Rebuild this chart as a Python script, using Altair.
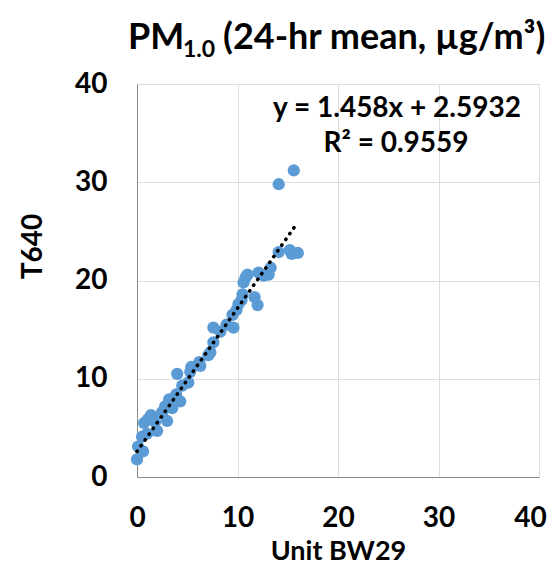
import altair as alt
import pandas as pd

# Data
bw29 = [0.0, 0.1, 0.6, 0.5, 1.0, 0.7, 1.1, 1.4, 1.8, 2.0, 1.5, 2.5, 3.0, 3.2, 3.5,
        2.8, 3.9, 4.3, 4.5, 4.0, 5.1, 5.3, 5.4, 6.3, 6.2, 7.3, 7.1, 7.6, 7.6, 8.3,
        8.9, 9.6, 9.5, 9.9, 10.1, 10.5, 10.4, 11.7, 12.0, 10.6, 11.0, 10.8, 12.1,
        12.6, 13.1, 13.3, 14.1, 15.2, 15.4, 16.0, 14.1, 15.6]
t640 = [1.8, 3.1, 2.6, 4.1, 4.4, 5.5, 5.9, 6.3, 5.6, 4.7, 6.0, 6.6, 5.7, 7.9, 7.0,
        7.2, 8.4, 7.7, 9.3, 10.5, 9.6, 10.7, 11.2, 11.3, 11.7, 12.7, 12.4, 13.7, 15.2,
        14.8, 15.5, 15.2, 16.5, 17.0, 17.6, 18.6, 18.0, 18.3, 17.5, 19.8, 20.6, 20.3,
        20.8, 20.5, 20.6, 21.3, 22.9, 23.1, 22.7, 22.8, 29.8, 31.2]
slope = 1.458
intercept = 2.5932
eq_line1 = "y = 1.458x + 2.5932"
eq_line2 = "R² = 0.9559"
title_main = "PM"
title_sub = "1.0"
title_rest = "(24-hr mean, µg/m³)"
ticks = [0, 10, 20, 30, 40]

FONT = "Lato"
df = pd.DataFrame({"x": bw29, "y": t640})
xfit = [min(bw29), max(bw29)]
fit = pd.DataFrame({"x": xfit, "y": [slope * v + intercept for v in xfit]})

xs = alt.Scale(domain=[0, 40], nice=False)
ys = alt.Scale(domain=[0, 40], nice=False)

points = alt.Chart(df).mark_point(filled=True, size=150, opacity=1, color="#5B9BD5").encode(
    x=alt.X("x:Q", scale=xs, axis=alt.Axis(
        values=ticks, title="Unit BW29", grid=True, ticks=False, labelFlush=False,
        labelOffset=alt.condition("datum.value == 40", alt.value(-9), alt.value(0)),
        labelFont=FONT, labelFontSize=28, labelFontWeight="bold", labelColor="#000",
        labelPadding=27, labelBaseline="top",
        titleFont=FONT, titleFontSize=27, titleFontWeight="bold", titleColor="#000",
        titleBaseline="alphabetic", titleY=82)),
    y=alt.Y("y:Q", scale=ys, axis=alt.Axis(
        values=ticks, title="T640", grid=True, ticks=False, labelFlush=False,
        labelFont=FONT, labelFontSize=28, labelFontWeight="bold", labelColor="#000",
        labelPadding=30,
        titleFont=FONT, titleFontSize=28, titleFontWeight="bold", titleColor="#000",
        titleAngle=270, titleBaseline="alphabetic", titleAlign="center",
        titleX=-96, titleY=162)),
)

trend = alt.Chart(fit).mark_line(color="black", strokeWidth=3.5, strokeDash=[0.5, 6.5],
                                 strokeCap="round").encode(
    x=alt.X("x:Q", scale=xs), y=alt.Y("y:Q", scale=ys))

def txt(s, x, y, size, align="left"):
    return alt.Chart(pd.DataFrame({"t": [s]})).mark_text(
        font=FONT, fontSize=size, fontWeight="bold", color="black",
        align=align, baseline="alphabetic").encode(
        x=alt.value(x), y=alt.value(y), text="t:N")

eq1 = txt(eq_line1, 260, 33, 28, "center")
eq2 = txt(eq_line2, 259, 68, 28, "center")
t1 = txt(title_main, -9, -35, 36)
t2 = txt(title_sub, 46, -27, 23)
t3 = txt(title_rest, 86, -35, 36)

chart = alt.layer(points, trend, eq1, eq2, t1, t2, t3).properties(
    width=402, height=393,
    autosize=alt.AutoSizeParams(type="none"),
    padding={"left": 129, "top": 76, "right": 10, "bottom": 88},
).configure_view(stroke=None).configure_axis(
    gridColor="#d9d9d9", gridWidth=1.3, domainColor="#d0d0d0", domainWidth=1.5
).configure(background="white")

chart.save("out.html", embed_options={"renderer": "svg", "actions": False})
